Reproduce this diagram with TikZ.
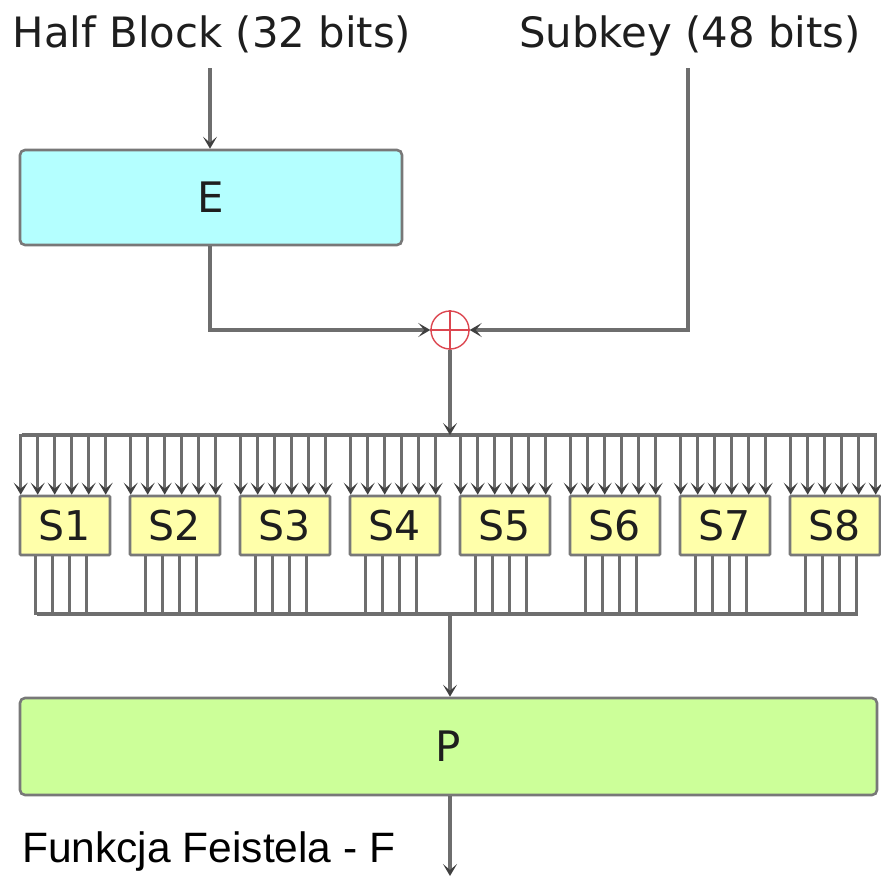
\documentclass[tikz,border=0pt]{standalone}
\usepackage{fontspec}
\setmainfont{DejaVu Sans}
\newfontfamily\arialfont{Liberation Sans}
\usetikzlibrary{arrows.meta,calc}
\definecolor{linegray}{RGB}{110,110,110}
\definecolor{boxborder}{RGB}{120,120,120}
\definecolor{efill}{RGB}{180,255,255}
\definecolor{sfill}{RGB}{255,255,170}
\definecolor{pfill}{RGB}{204,255,153}
\definecolor{xorred}{RGB}{220,70,80}
\definecolor{txt}{RGB}{30,30,30}
\tikzset{
  wire/.style={draw=linegray, line width=3.2pt},
  arr/.style={wire, -{Stealth[length=12pt,width=14pt,inset=6pt,color=black!75]}},
  blockbox/.style={draw=boxborder, line width=2.6pt, rounded corners=5pt, inner sep=0pt, text=txt, font=\fontsize{42}{48}\selectfont},
  sbox/.style={blockbox, fill=sfill, rounded corners=1pt, minimum width=90pt, minimum height=59pt, font=\fontsize{41}{46}\selectfont},
  lbl/.style={inner sep=0pt, text=txt, font=\fontsize{41.8}{48}\selectfont}
}
\begin{document}
\begin{tikzpicture}[x=1pt,y=-1pt]
\useasboundingbox (0,0) rectangle (881,878);
% titles
\node[lbl, anchor=base] (hb) at (212,47) {Half Block (32 bits)};
\node[lbl, anchor=base] (sk) at (690,47) {Subkey (48 bits)};
\coordinate (hbs) at (210,68);
\coordinate (sks) at (688,68);
% E box
\node[blockbox, fill=efill, minimum width=382pt, minimum height=95pt] (E) at (211,197.5) {E};
\draw[arr] (hbs) -- (hbs |- E.north);
% XOR
\node[circle, draw=xorred, line width=1.4pt, minimum size=38pt, inner sep=0pt] (xor) at (450,330) {};
\draw[xorred, line width=1.4pt] (xor.north) -- (xor.south) (xor.west) -- (xor.east);
\coordinate (ebend) at (210,330);
\coordinate (kbend) at (688,330);
\draw[arr] (hbs |- E.south) -- (ebend) -- (xor.west);
\draw[arr] (sks) -- (kbend) -- (xor.east);
% S boxes
\foreach \i in {1,...,8} {
  \node[sbox] (s\i) at ({65+110*(\i-1)},525.5) {S\i};
}
% top bus
\coordinate (tbl) at (22,435);
\coordinate (tbr) at (877,435);
\draw[wire] (tbl) -- (tbr);
\draw[arr] (xor.south) -- (xor.south |- tbl);
\foreach \i in {1,...,8} {
  \foreach \k in {0,...,5} {
    \draw[arr] ($(s\i.north west)+({2+17*\k},-61)$) -- ($(s\i.north west)+({2+17*\k},0)$);
  }
  \foreach \k in {0,...,3} {
    \draw[wire] ($(s\i.south west)+({17+17*\k},0)$) -- ($(s\i.south west)+({17+17*\k},59)$);
  }
}
% bottom bus
\coordinate (bbl) at (37,614);
\coordinate (bbr) at (858,614);
\draw[wire] (bbl) -- (bbr);
% P box
\node[blockbox, fill=pfill, minimum width=857pt, minimum height=97pt] (P) at (448.5,746.5) {P};
\coordinate (bbm) at (450,614);
\draw[arr] (bbm) -- (bbm |- P.north);
\coordinate (pout) at (450,876);
\draw[arr] (bbm |- P.south) -- (pout);
% caption
\node[inner sep=0pt, anchor=base west, text=black, font=\arialfont\fontsize{42.5}{48}\selectfont] (cap) at (22,862) {Funkcja Feistela - F};
\end{tikzpicture}
\end{document}
